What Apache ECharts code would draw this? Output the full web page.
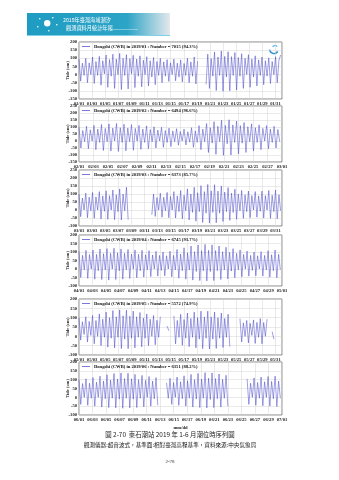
<!DOCTYPE html>
<html>
<head>
<meta charset="utf-8">
<script src="https://cdn.jsdelivr.net/npm/echarts@6/dist/echarts.min.js"></script>
<style>
html,body{margin:0;padding:0;background:#fff}
#c{width:339px;height:480px}
</style>
</head>
<body>
<div id="c"></div>
<script>
// Dongshi tide gauge, Jan–Jun 2019: successive high / low water levels (cm),
// one turning point every half tidal cycle; '-' marks missing records.
const months = ['2019/01', '2019/02', '2019/03', '2019/04', '2019/05', '2019/06'];
const daysInMonth = [31, 28, 31, 30, 31, 30];
const recordCounts = [7015, 6494, 6373, 6745, 5572, 6351];
const recordRatio = ['94.3%', '96.6%', '85.7%', '93.7%', '74.9%', '88.2%'];
const yMin = [-150, -150, -100, -100, -100, -100];
const yMax = [200, 250, 250, 200, 200, 200];

const jan = [
  95,-40,70,-5, 100,-50,72,0, 108,-55,80,-5, 112,-65,85,5, 120,-78,92,-10,
  125,-85,95,0, 130,-92,100,-5, 122,-88,98,5, 118,-80,95,-10, 115,-75,88,0,
  110,-70,85,-15, 105,-62,80,-5, 100,-50,78,-10, 92,-42,72,0, 95,-38,70,-15,
  90,-45,68,-5, 100,-50,78,-10, 108,-58,82,'-', '-','-','-',-60, 125,-85,98,-10,
  138,-98,108,-5, 145,-102,112,-15, 140,-100,110,-5, 135,-95,105,-10, 128,-85,100,0,
  122,-78,95,-15, 115,-70,90,-5, 108,-62,85,-10, 102,-55,80,0, 110,-50,88,120
];
const feb = [
  100,-50,75,-5, 105,-55,80,0, 112,-62,85,-10, 118,-68,90,-5, 122,-72,92,0,
  125,-75,95,-10, 120,-70,92,-5, 118,-66,90,0, 112,-60,85,-10, 108,-55,82,-5,
  102,-50,78,0, 98,-45,75,-10, 92,-40,72,-5, 88,-30,68,0, 85,-28,66,-8,
  95,-45,72,-10, 110,-62,85,-5, 125,-82,95,-15, 138,-95,105,-5, 148,-102,112,-20,
  152,-100,115,-10, 142,-92,110,-15, 132,-82,102,-5, 122,-72,95,-10, 115,-62,90,0,
  110,-55,85,-10, 105,-50,82,-5
];
const mar = [
  100,-42,75,0, 105,-48,80,-5, 110,-52,82,0, 115,-56,88,-8, 120,-58,90,0,
  125,-60,95,-10, 132,-62,100,-5, 142,-60,'-','-', '-','-','-','-', '-','-','-','-',
  '-','-','-',-30, 100,-40,78,0, 105,-45,80,-5, 110,-48,85,0, 115,-50,88,-10,
  122,-55,92,-5, 132,-62,100,-15, 142,-70,108,-10, 152,-78,115,-20, 160,-82,120,-15,
  158,-80,118,-20, 150,-72,112,-10, 140,-65,105,-15, 130,-58,100,-5, 122,-52,95,-10,
  118,-48,90,0, 115,-45,88,-8, 118,-50,90,0, 122,-52,92,-10, 125,-55,95,-5
];
const apr = [
  105,-50,80,-5, 110,-55,85,0, 112,-60,86,-10, 118,-62,90,-5, 120,-65,92,0,
  122,-62,95,-10, 118,-60,92,-5, 115,-56,88,0, 112,-52,86,-10, 110,-48,84,-5,
  108,-45,82,0, 104,-42,80,-8, 100,-40,78,0, 105,-46,80,-5, 115,-54,88,-10,
  125,-60,95,-5, 135,-65,102,-15, 142,-68,108,-10, 145,-70,110,-15, 142,-68,108,-10,
  135,-62,102,-5, 128,-58,98,-12, 120,-52,92,-5, 112,-46,86,0, 105,-42,80,-8,
  100,-40,78,0, 102,-42,80,-5, 108,-48,84,-10, 112,-52,86,-5
];
const may = [
  100,-20,78,10, 105,-30,80,5, 112,-40,85,0, 120,-50,92,-5, 130,-58,100,-10,
  138,-62,105,-5, 142,-66,110,-15, 140,-66,108,-10, 135,-62,105,-5, 128,-56,98,-10,
  120,-50,92,0, 112,-45,86,-5, 105,'-','-','-', 55,30,'-','-', 110,-40,85,-5,
  118,-48,90,-10, 125,-55,96,-5, 130,-62,100,-15, 135,-66,104,-10, 135,-68,104,-15,
  130,-65,100,-10, 125,-60,96,-5, 118,-55,'-','-', '-','-','-',95, -30,72,0,85,
  -35,70,5,88, -38,75,-5,95, -40,74,0,92, '-','-',25,-15, '-','-','-','-'
];
const jun = [
  100,-40,78,0, 105,-45,80,-5, 112,-50,86,0, 120,-55,92,-8, 128,-58,98,-5,
  135,-60,104,-10, 138,-62,106,-5, 136,-60,105,-10, 130,-58,100,-5, 124,-54,96,0,
  118,-50,92,-8, 112,-45,'-','-', '-','-',82,-5, 108,-40,84,0, 115,-45,88,-8,
  122,-50,94,-5, 130,-55,100,-10, 136,-58,104,-5, 140,-60,108,-12, 138,-58,106,-8,
  132,-55,102,-5, 125,-50,'-','-', '-','-','-','-', '-','-','-','-', 105,-40,80,0,
  110,-45,84,-5, 115,-48,88,0, 118,-50,90,-8, 120,-52,92,-5
];
const levels = [jan, feb, mar, apr, may, jun];

// half a semidiurnal tidal cycle, in days
const HALF_CYCLE = 6.21 / 24;

const tops = [42, 106, 170, 235, 299, 362];
const bottoms = [99, 162, 226, 286, 355, 415];
const LEFT = 79, WIDTH = 203;
const LINE = '#4040c8';
const SERIF = 'Liberation Serif, Times New Roman, serif';
const CJK = 'Noto Sans CJK TC, Noto Sans CJK SC, sans-serif';

function dayLabel(monthIdx, v) {
  if (v % 2 !== 0) return '';
  const d = new Date(2019, monthIdx, 1 + v);
  const mm = String(d.getMonth() + 1).padStart(2, '0');
  const dd = String(d.getDate()).padStart(2, '0');
  return mm + '/' + dd;
}

const grids = [], xAxes = [], yAxes = [], series = [], legends = [];
months.forEach((m, k) => {
  const name = 'Dongshi (CWB) in ' + m + ' : Number = ' + recordCounts[k] + ' (' + recordRatio[k] + ')';
  grids.push({
    left: LEFT, width: WIDTH, top: tops[k], height: bottoms[k] - tops[k],
    show: true, borderColor: '#555', borderWidth: 0.7, backgroundColor: '#fff'
  });
  xAxes.push({
    gridIndex: k, type: 'value', min: 0, max: daysInMonth[k], interval: 2,
    axisLine: { show: false },
    axisTick: { show: false },
    splitLine: { show: true, lineStyle: { color: '#d4d4d4', width: 0.5 } },
    axisLabel: {
      fontSize: 4.6, fontFamily: SERIF, fontWeight: 'bold', color: '#222', margin: 2.5,
      formatter: v => dayLabel(k, v)
    },
    name: k === 5 ? 'mm/dd' : '',
    nameLocation: 'middle', nameGap: 10, nameMoveOverlap: false,
    nameTextStyle: { fontSize: 4.6, fontFamily: SERIF, fontWeight: 'bold', color: '#222' }
  });
  yAxes.push({
    gridIndex: k, type: 'value', min: yMin[k], max: yMax[k], interval: 50,
    axisLine: { show: false },
    axisTick: { show: false },
    splitLine: { show: true, lineStyle: { color: '#d4d4d4', width: 0.5 } },
    axisLabel: { fontSize: 4.6, fontFamily: SERIF, fontWeight: 'bold', color: '#222', margin: 2 },
    name: 'Tide (cm)', nameLocation: 'middle', nameGap: 9, nameRotate: 90, nameMoveOverlap: false,
    nameTextStyle: { fontSize: 4.6, fontFamily: SERIF, fontWeight: 'bold', color: '#222' }
  });
  series.push({
    name, type: 'line', xAxisIndex: k, yAxisIndex: k,
    symbol: 'none', showSymbol: false, connectNulls: false,
    lineStyle: { width: 0.5, color: LINE },
    itemStyle: { color: LINE },
    data: levels[k].map((v, i) => [i * HALF_CYCLE, v])
  });
  legends.push({
    data: [name], left: LEFT + 3, top: tops[k] + 2, padding: 0,
    icon: 'rect', itemWidth: 8, itemHeight: 0.7, itemGap: 2,
    textStyle: { fontSize: 4.6, fontFamily: SERIF, fontWeight: 'bold', color: '#111', padding: [0, 0, 0, -1] }
  });
});

const chart = echarts.init(document.getElementById('c'), null, { renderer: 'canvas' });
chart.setOption({
  animation: false,
  backgroundColor: '#fff',
  grid: grids, xAxis: xAxes, yAxis: yAxes, series, legend: legends,
  graphic: [
    // report banner
    { type: 'rect', left: 27, top: 13, shape: { width: 143, height: 23 },
      style: { fill: new echarts.graphic.LinearGradient(0, 0, 1, 0, [
        { offset: 0, color: '#1f9cc2' }, { offset: 0.7, color: '#2ca4c6' }, { offset: 1, color: '#e4e8ec' }]) } },
    { type: 'rect', left: 27, top: 35, shape: { width: 143, height: 1 }, style: { fill: '#7fd0e6' } },
    { type: 'circle', left: 44, top: 20, shape: { r: 3.2 }, style: { fill: '#ffffff' } },
    { type: 'circle', left: 39, top: 18, shape: { r: 0.8 }, style: { fill: '#ffffff' } },
    { type: 'circle', left: 52, top: 17, shape: { r: 0.8 }, style: { fill: '#ffffff' } },
    { type: 'circle', left: 56, top: 24, shape: { r: 0.8 }, style: { fill: '#ffffff' } },
    { type: 'circle', left: 37, top: 26, shape: { r: 0.8 }, style: { fill: '#ffffff' } },
    { type: 'circle', left: 48, top: 30, shape: { r: 0.8 }, style: { fill: '#ffffff' } },
    { type: 'text', left: 63, top: 17.5, style: { text: '2019年臺灣海域潮汐', fontSize: 5.2, fill: '#fff', fontFamily: CJK } },
    { type: 'text', left: 66, top: 25, style: { text: '觀測資料月統計年報', fontSize: 5.2, fill: '#fff', fontFamily: CJK } },
    { type: 'rect', left: 112, top: 29, shape: { width: 26, height: 0.5 }, style: { fill: '#cfe9f1' } },
    // station emblem in the first panel
    { type: 'arc', shape: { cx: 274, cy: 49, r: 4.5, startAngle: 0.6, endAngle: 3.0 }, style: { stroke: '#2b8fd0', lineWidth: 1.6, fill: null } },
    { type: 'arc', shape: { cx: 275, cy: 48, r: 2.5, startAngle: 3.6, endAngle: 5.8 }, style: { stroke: '#5cb6e6', lineWidth: 1.2, fill: null } },
    // captions
    { type: 'text', x: 170, y: 435, style: { text: '圖 2-70  東石潮站 2019 年 1-6 月潮位時序列圖', fontSize: 6.4, fill: '#222', fontFamily: CJK, align: 'center', verticalAlign: 'middle' } },
    { type: 'text', x: 170, y: 445, style: { text: '觀測儀器:超音波式，基準面:相對臺灣高程基準，資料來源:中央氣象局', fontSize: 5.6, fill: '#222', fontFamily: CJK, align: 'center', verticalAlign: 'middle' } },
    { type: 'text', x: 170, y: 462, style: { text: '2-78', fontSize: 5, fill: '#333', fontFamily: SERIF, align: 'center', verticalAlign: 'middle' } }
  ]
});
</script>
</body>
</html>
